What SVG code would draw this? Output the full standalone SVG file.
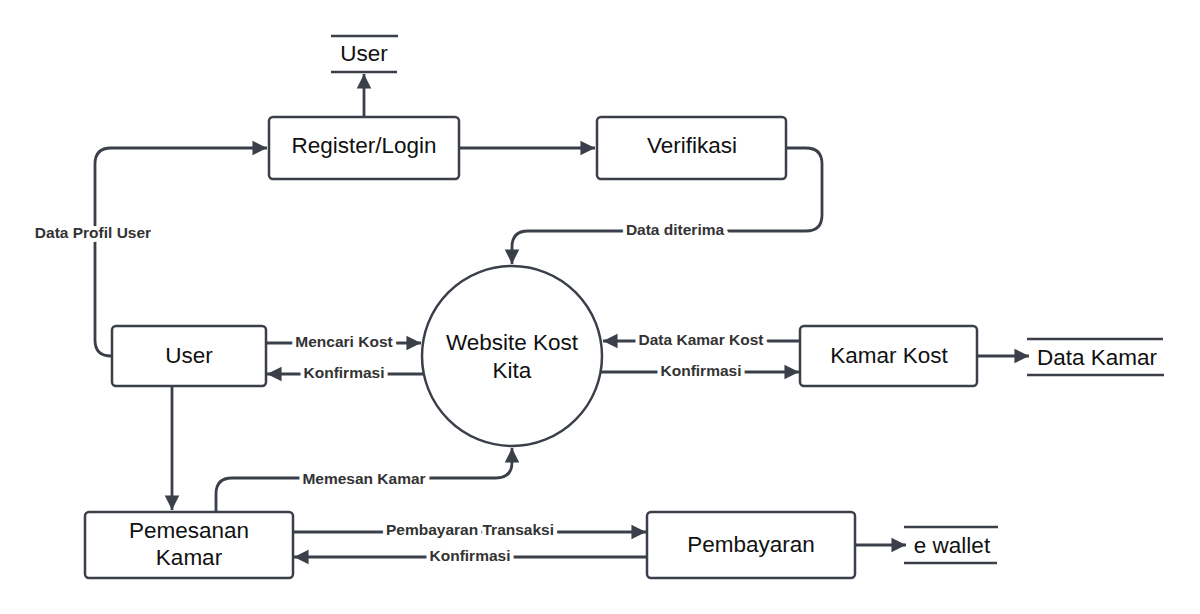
<svg xmlns="http://www.w3.org/2000/svg" width="1200" height="614" viewBox="0 0 1200 614">
<defs>
<marker id="ah" viewBox="0 0 10 10" refX="10" refY="5" markerWidth="5.2" markerHeight="5.4" markerUnits="strokeWidth" orient="auto">
<path d="M0,0 L10,5 L0,10 Z" fill="#3a3f4a"/>
</marker>
<style>
.box{fill:#fff;stroke:#3a3f4a;stroke-width:2.5}
.ds{stroke:#3a3f4a;stroke-width:2.5}
.t{font-family:"Liberation Sans",Arial,sans-serif;font-size:22.5px;fill:#111;text-anchor:middle;dominant-baseline:central}
.c{fill:none;stroke:#3a3f4a;stroke-width:2.8}
.l{font-family:"Liberation Sans",Arial,sans-serif;font-size:15.5px;font-weight:bold;fill:#333;text-anchor:middle;dominant-baseline:central;stroke:#fff;stroke-width:8;stroke-linejoin:round;paint-order:stroke}
</style>
</defs>
<rect width="1200" height="614" fill="#fff"/>
<g id="connectors">
<path class="c" d="M364,116 V74" marker-end="url(#ah)"/>
<path class="c" d="M459,148 H595" marker-end="url(#ah)"/>
<path class="c" d="M786,148 H806 Q822,148 822,164 V215 Q822,231 806,231 H528 Q512,231 512,247 V264" marker-end="url(#ah)"/>
<path class="c" d="M112,356 H111 Q95,356 95,340 V164 Q95,148 111,148 H267" marker-end="url(#ah)"/>
<path class="c" d="M266,343 H421" marker-end="url(#ah)"/>
<path class="c" d="M423,374 H267" marker-end="url(#ah)"/>
<path class="c" d="M800,341 H603" marker-end="url(#ah)"/>
<path class="c" d="M601,372 H799" marker-end="url(#ah)"/>
<path class="c" d="M977,356 H1029" marker-end="url(#ah)"/>
<path class="c" d="M172,386 V510" marker-end="url(#ah)"/>
<path class="c" d="M216,512 V494 Q216,478 232,478 H496 Q512,478 512,462 V448" marker-end="url(#ah)"/>
<path class="c" d="M293,532 H646" marker-end="url(#ah)"/>
<path class="c" d="M647,557 H294" marker-end="url(#ah)"/>
<path class="c" d="M855,545 H906" marker-end="url(#ah)"/>
<text class="l" x="675" y="229">Data diterima</text>
<text class="l" x="93" y="232">Data Profil User</text>
<text class="l" x="344" y="341">Mencari Kost</text>
<text class="l" x="344" y="372">Konfirmasi</text>
<text class="l" x="701" y="339">Data Kamar Kost</text>
<text class="l" x="701" y="370">Konfirmasi</text>
<text class="l" x="364" y="478">Memesan Kamar</text>
<text class="l" x="470" y="529">Pembayaran Transaksi</text>
<text class="l" x="470" y="555">Konfirmasi</text>
</g>
<g id="ds-user">
<line class="ds" x1="331" y1="36" x2="398" y2="36"/>
<line class="ds" x1="331" y1="72" x2="397" y2="72"/>
<text class="t" x="364" y="53">User</text>
</g>
<g id="register-login">
<rect class="box" x="269" y="117" width="190" height="62" rx="4"/>
<text class="t" x="364" y="145">Register/Login</text>
</g>
<g id="verifikasi">
<rect class="box" x="597" y="117" width="189" height="62" rx="4"/>
<text class="t" x="692" y="145">Verifikasi</text>
</g>
<g id="website">
<circle class="box" cx="512" cy="356" r="90"/>
<text class="t" x="512" y="342">Website Kost</text>
<text class="t" x="512" y="370">Kita</text>
</g>
<g id="user">
<rect class="box" x="112" y="326" width="154" height="60" rx="4"/>
<text class="t" x="189" y="355">User</text>
</g>
<g id="kamar-kost">
<rect class="box" x="800" y="326" width="177" height="60" rx="4"/>
<text class="t" x="889" y="355">Kamar Kost</text>
</g>
<g id="ds-data-kamar">
<line class="ds" x1="1027" y1="339" x2="1163" y2="339"/>
<line class="ds" x1="1027" y1="375" x2="1164" y2="375"/>
<text class="t" x="1097" y="357">Data Kamar</text>
</g>
<g id="pemesanan-kamar">
<rect class="box" x="85" y="512" width="208" height="66" rx="4"/>
<text class="t" x="189" y="530">Pemesanan</text>
<text class="t" x="189" y="557">Kamar</text>
</g>
<g id="pembayaran">
<rect class="box" x="647" y="512" width="208" height="66" rx="4"/>
<text class="t" x="751" y="544">Pembayaran</text>
</g>
<g id="ds-ewallet">
<line class="ds" x1="904" y1="527" x2="998" y2="527"/>
<line class="ds" x1="904" y1="563" x2="997" y2="563"/>
<text class="t" x="952" y="545">e wallet</text>
</g>
</svg>
